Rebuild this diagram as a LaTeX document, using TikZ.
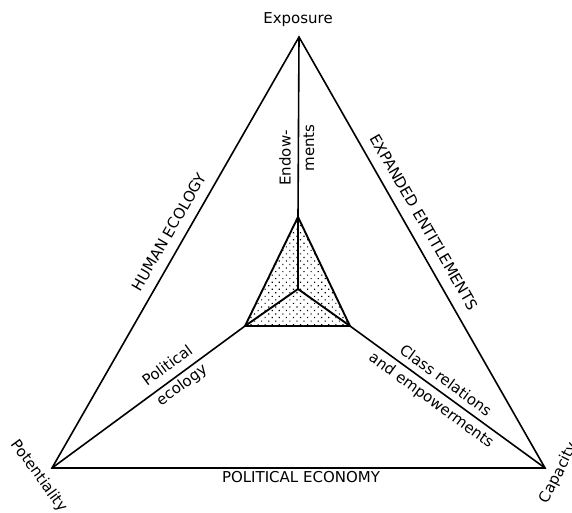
\documentclass[tikz,border=0pt]{standalone}
\usepackage{fontspec}
\setmainfont{DejaVu Sans}
\usetikzlibrary{patterns.meta}
\begin{document}
\begin{tikzpicture}[x=1pt,y=1pt,
  edge/.style={line width=1.6pt, line join=miter},
  innerline/.style={line width=1.9pt, line join=miter},
  lbl/.style={font=\fontsize{15}{18}\selectfont, inner sep=0pt, text=black},
]
\useasboundingbox (0,0) rectangle (572,512);
% outer vertices
\coordinate (E) at (299,475);
\coordinate (P) at (52,44);
\coordinate (C) at (545,44);
% inner triangle
\coordinate (it) at (298,295);
\coordinate (il) at (245,186);
\coordinate (ir) at (350,186);
\coordinate (c) at (298,223);
% outer triangle
\draw[edge] (E) -- (P) -- (C) -- cycle;
% inner shaded triangle
\fill[pattern={Dots[radius=0.8pt,distance=5pt,angle=45]}] (it) -- (il) -- (ir) -- cycle;
\draw[innerline] (it) -- (il) -- (ir) -- cycle;
\draw[innerline] (c) -- (it);
\draw[innerline] (c) -- (il);
\draw[innerline] (c) -- (ir);
% spokes
\draw[edge] (E) -- (it);
\draw[edge] (P) -- (il);
\draw[edge] (C) -- (ir);
% labels
\node[lbl] (exp) at (298,492) {Exposure};
\node[lbl] (pot) at (39,36) [rotate=-54] {Potentiality};
\node[lbl] (cap) at (559,39) [rotate=63] {Capacity};
\node[lbl] (pe) at (301,35) {POLITICAL ECONOMY};
\node[lbl, rotate=60] (he) at (169,280) {HUMAN ECOLOGY};
\node[lbl, rotate=-60] (ee) at (424,290) {EXPANDED ENTITLEMENTS};
\node[lbl, rotate=90] (en1) at (285,354) {Endow-};
\node[lbl, rotate=90] (en2) at (309,364) {ments};
\node[lbl, rotate=36.3, align=center] (polec) at (175,136) {Political\\[6pt]ecology};
\node[lbl, rotate=-36.1, align=center] (cls) at (438,121) {Class relations\\[6pt]and empowerments};
\end{tikzpicture}
\end{document}
